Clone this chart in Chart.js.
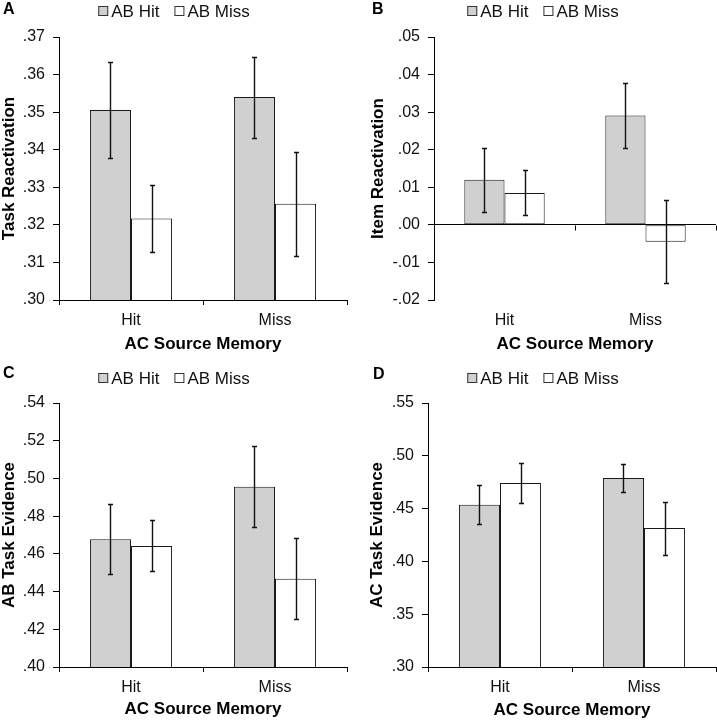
<!DOCTYPE html>
<html>
<head>
<meta charset="utf-8">
<script src="https://cdn.jsdelivr.net/npm/chart.js@4.4.1/dist/chart.umd.min.js"></script>
<style>
  html, body { margin: 0; padding: 0; background: #fff; }
  #wrap { position: relative; width: 717px; height: 720px; }
  .panel { position: absolute; }
</style>
</head>
<body>
<div id="wrap">
  <div class="panel" style="left:0;top:0"><canvas id="chartA" width="358" height="360"></canvas></div>
  <div class="panel" style="left:358px;top:0"><canvas id="chartB" width="359" height="360"></canvas></div>
  <div class="panel" style="left:0;top:360px"><canvas id="chartC" width="358" height="360"></canvas></div>
  <div class="panel" style="left:358px;top:360px"><canvas id="chartD" width="359" height="360"></canvas></div>
</div>
<script>
// data
const categories = ['Hit', 'Miss'];
const seriesNames = ['AB Hit', 'AB Miss'];

// A - Task Reactivation
const taskReactHit = [0.3506, 0.3540];
const taskReactHitErr = [0.0128, 0.0108];
const taskReactMiss = [0.3217, 0.3256];
const taskReactMissErr = [0.0089, 0.0139];

// B - Item Reactivation
const itemReactHit = [0.0120, 0.0291];
const itemReactHitErr = [0.0085, 0.0087];
const itemReactMiss = [0.0085, -0.0045];
const itemReactMissErr = [0.0060, 0.0110];

// C - AB Task Evidence
const abEvidHit = [0.4678, 0.4956];
const abEvidHitErr = [0.0187, 0.0215];
const abEvidMiss = [0.4642, 0.4468];
const abEvidMissErr = [0.0135, 0.0214];

// D - AC Task Evidence
const acEvidHit = [0.4537, 0.4790];
const acEvidHitErr = [0.0183, 0.0134];
const acEvidMiss = [0.4742, 0.4316];
const acEvidMissErr = [0.0193, 0.0251];

const FONT = "'Liberation Sans', Arial, sans-serif";
Chart.defaults.font.family = FONT;
Chart.defaults.color = '#111';

const GRAY = '#d0d0d0';
const WHITE = '#ffffff';
const EDGE = '#1a1a1a';

function fmtTick(v) {
    if (Math.abs(v) < 1e-9) v = 0;
    return v.toFixed(2).replace(/^(-?)0\./, '$1.');
}

// error bars, legend, panel letter, zero-line ticks
const panelDecor = {
    id: 'panelDecor',
    afterDatasetsDraw(chart) {
        const ctx = chart.ctx;
        const y = chart.scales.y;
        ctx.save();
        ctx.strokeStyle = '#111';
        ctx.lineWidth = 1.4;
        chart.data.datasets.forEach((ds, i) => {
            const meta = chart.getDatasetMeta(i);
            meta.data.forEach((bar, j) => {
                const v = ds.data[j], e = ds.errors[j];
                const yt = Math.round(y.getPixelForValue(v + e)) + 0.5;
                const yb = Math.round(y.getPixelForValue(v - e)) + 0.5;
                const x = Math.round(bar.x) + 0.5;
                ctx.beginPath();
                ctx.moveTo(x, yt); ctx.lineTo(x, yb);
                ctx.moveTo(x - 2.5, yt); ctx.lineTo(x + 2.5, yt);
                ctx.moveTo(x - 2.5, yb); ctx.lineTo(x + 2.5, yb);
                ctx.stroke();
            });
        });
        ctx.restore();
    },
    afterDraw(chart, args, opts) {
        const ctx = chart.ctx;
        ctx.save();
        // zero line ticks (panel B)
        if (opts.zeroTicks) {
            const xs = chart.scales.x;
            const y0 = Math.round(chart.scales.y.getPixelForValue(0)) + 0.5;
            const mid = (xs.getPixelForValue(0) + xs.getPixelForValue(1)) / 2;
            ctx.strokeStyle = '#000';
            ctx.lineWidth = 1;
            ctx.beginPath();
            [mid, chart.chartArea.right - 0.5].forEach(px => {
                ctx.moveTo(Math.round(px) + 0.5, y0);
                ctx.lineTo(Math.round(px) + 0.5, y0 + 5);
            });
            ctx.stroke();
        }
        // panel letter
        ctx.fillStyle = '#000';
        ctx.font = 'bold 16px ' + FONT;
        ctx.textBaseline = 'middle';
        ctx.textAlign = 'left';
        ctx.fillText(opts.letter, opts.letterX, opts.letterY);
        // legend
        ctx.font = '17px ' + FONT;
        const box = 10, gap = 3, itemGap = 15;
        const items = chart.data.datasets.map(ds => ({
            label: ds.label, fill: ds.backgroundColor, w: ctx.measureText(ds.label).width
        }));
        let total = 0;
        items.forEach((it, k) => { total += box + gap + it.w + (k ? itemGap : 0); });
        let x = opts.legendX - total / 2;
        items.forEach((it, k) => {
            if (k) x += itemGap;
            ctx.fillStyle = it.fill;
            ctx.fillRect(x, opts.legendY - box / 2, box, box);
            ctx.strokeStyle = '#333';
            ctx.lineWidth = 1;
            ctx.strokeRect(x + 0.5, opts.legendY - box / 2 + 0.5, box - 1, box - 1);
            ctx.fillStyle = '#111';
            ctx.fillText(it.label, x + box + gap, opts.legendY + 1);
            x += box + gap + it.w;
        });
        ctx.restore();
    }
};

function makePanel(id, cfg) {
    const zeroAxis = !!cfg.zeroAxis;
    new Chart(document.getElementById(id), {
        type: 'bar',
        data: {
            labels: categories,
            datasets: [
                { label: seriesNames[0], data: cfg.hit, errors: cfg.hitErr, backgroundColor: GRAY, borderColor: EDGE, borderWidth: 1, borderSkipped: false },
                { label: seriesNames[1], data: cfg.miss, errors: cfg.missErr, backgroundColor: WHITE, borderColor: EDGE, borderWidth: 1, borderSkipped: false }
            ]
        },
        options: {
            responsive: false,
            animation: false,
            devicePixelRatio: 1,
            datasets: { bar: { categoryPercentage: 0.57, barPercentage: 1 } },
            layout: { padding: { top: cfg.top, left: 0, right: cfg.right, bottom: 0 } },
            plugins: {
                legend: { display: false },
                tooltip: { enabled: false },
                panelDecor: {
                    letter: cfg.letter, letterX: cfg.letterX, letterY: cfg.letterY,
                    legendX: cfg.legendX, legendY: cfg.legendY, zeroTicks: zeroAxis
                }
            },
            scales: {
                x: {
                    afterFit: s => { s.height = cfg.xHeight; },
                    border: { display: !zeroAxis, color: '#000', width: 1 },
                    grid: { drawOnChartArea: false, drawTicks: !zeroAxis, tickLength: 5, color: '#000', offset: true },
                    ticks: { color: '#111', font: { size: 16 }, padding: zeroAxis ? 11 : 6 },
                    title: { display: true, text: 'AC Source Memory', color: '#000', font: { size: 17, weight: 'bold', lineHeight: 1.1 }, padding: { top: 0, bottom: cfg.titlePad } }
                },
                y: {
                    min: cfg.min, max: cfg.max,
                    afterFit: s => { s.width = cfg.yWidth; },
                    border: { display: true, color: '#000', width: 1 },
                    grid: {
                        drawOnChartArea: zeroAxis,
                        color: zeroAxis ? (c => Math.abs(c.tick.value) < 1e-9 ? '#000' : 'rgba(0,0,0,0)') : '#000',
                        tickColor: '#000',
                        tickLength: 6
                    },
                    ticks: { stepSize: cfg.step, color: '#111', font: { size: 16 }, padding: 8, callback: v => fmtTick(v) },
                    title: { display: true, text: cfg.yTitle, color: '#000', font: { size: 17, weight: 'bold', lineHeight: 1 }, padding: { top: cfg.yTitlePad, bottom: 0 } }
                }
            }
        },
        plugins: [panelDecor]
    });
}

makePanel('chartA', {
    hit: taskReactHit, hitErr: taskReactHitErr, miss: taskReactMiss, missErr: taskReactMissErr,
    min: 0.30, max: 0.37, step: 0.01, yTitle: 'Task Reactivation',
    top: 37, right: 11, xHeight: 60, yWidth: 59, yTitlePad: 1, titlePad: 6,
    letter: 'A', letterX: 3, letterY: 10, legendX: 174, legendY: 11
});
makePanel('chartB', {
    hit: itemReactHit, hitErr: itemReactHitErr, miss: itemReactMiss, missErr: itemReactMissErr,
    min: -0.02, max: 0.05, step: 0.01, yTitle: 'Item Reactivation', zeroAxis: true,
    top: 37, right: 1, xHeight: 60, yWidth: 76, yTitlePad: 12, titlePad: 6,
    letter: 'B', letterX: 14, letterY: 10, legendX: 185, legendY: 11
});
makePanel('chartC', {
    hit: abEvidHit, hitErr: abEvidHitErr, miss: abEvidMiss, missErr: abEvidMissErr,
    min: 0.40, max: 0.54, step: 0.02, yTitle: 'AB Task Evidence',
    top: 43, right: 11, xHeight: 53, yWidth: 59, yTitlePad: 1, titlePad: 1,
    letter: 'C', letterX: 3, letterY: 14, legendX: 174, legendY: 18
});
makePanel('chartD', {
    hit: acEvidHit, hitErr: acEvidHitErr, miss: acEvidMiss, missErr: acEvidMissErr,
    min: 0.30, max: 0.55, step: 0.05, yTitle: 'AC Task Evidence',
    top: 43, right: 1, xHeight: 53, yWidth: 70, yTitlePad: 11, titlePad: 0,
    letter: 'D', letterX: 15, letterY: 15, legendX: 185, legendY: 18
});
</script>
</body>
</html>
